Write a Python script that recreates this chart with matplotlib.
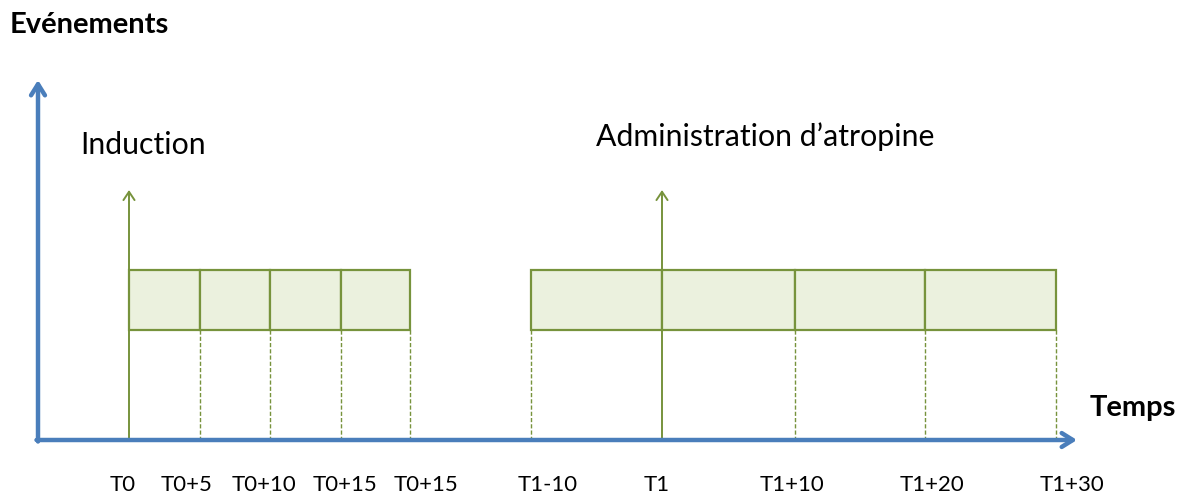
import matplotlib
matplotlib.use("Agg")
import matplotlib.pyplot as plt
from matplotlib.patches import Rectangle, FancyArrowPatch

# ---- data ----
tick_labels = ["T0", "T0+5", "T0+10", "T0+15", "T0+15",
               "T1-10", "T1", "T1+10", "T1+20", "T1+30"]
# horizontal positions of the time marks (diagram units)
tick_pos = [129, 200, 270, 341, 410, 531, 662, 795, 925, 1056]
label_pos = [123, 187, 264, 345, 426, 548, 657, 792, 932, 1072]
# time blocks (start index, end index) into tick_pos
blocks = [(0, 4), (5, 9)]
# events: (tick index, label, label x)
events = [(0, "Induction", 80), (6, "Administration d\u2019atropine", 596)]
event_label_y = [145, 137]

blue = "#4a7ebb"
green = "#77933c"
fill = "#ebf1de"
font = ["Lato", "DejaVu Sans"]

fig = plt.figure(figsize=(11.85, 4.95), dpi=100)
ax = fig.add_axes([0, 0, 1, 1])
ax.set_xlim(0, 1185)
ax.set_ylim(495, 0)
ax.axis("off")

y_axis = 440
box_top, box_bot = 270, 330

# boxes and dividers
for s, e in blocks:
    for i in range(s, e):
        ax.add_patch(Rectangle((tick_pos[i], box_top), tick_pos[i + 1] - tick_pos[i],
                               box_bot - box_top, facecolor=fill, edgecolor=green,
                               linewidth=1.6, zorder=2))
# dashed drop lines
event_idx = [ev[0] for ev in events]
for i, x in enumerate(tick_pos):
    if i in event_idx:
        continue
    ax.plot([x, x], [box_bot, y_axis], color=green, lw=1.0, ls=(0, (3, 1.5)), zorder=1)

# event arrows
for (idx, lab, lx), ly in zip(events, event_label_y):
    x = tick_pos[idx]
    ax.add_patch(FancyArrowPatch((x, y_axis), (x, 190), arrowstyle="->,head_length=6,head_width=4",
                                 color=green, lw=1.4, zorder=3, shrinkA=0, shrinkB=0))
    ax.text(lx, ly, lab, fontsize=21.8, family=font, ha="left", va="center", color="black")

# axes arrows
ax.add_patch(FancyArrowPatch((38, y_axis + 1.5), (38, 80), arrowstyle="->,head_length=8,head_width=5",
                             color=blue, lw=3.2, zorder=4, shrinkA=0, shrinkB=0))
ax.add_patch(FancyArrowPatch((36.5, y_axis), (1077, y_axis), arrowstyle="->,head_length=8,head_width=5",
                             color=blue, lw=3.2, zorder=4, shrinkA=0, shrinkB=0))

# tick labels
for lab, x in zip(tick_labels, label_pos):
    ax.text(x, 485, lab, fontsize=16, family=font, ha="center", va="center", color="black")

ax.text(10, 25, "Ev\u00e9nements", fontsize=21, fontweight="bold", family=font,
        ha="left", va="center")
ax.text(1090, 408, "Temps", fontsize=21, fontweight="bold", family=font,
        ha="left", va="center")

fig.savefig("out.png", dpi=100)
